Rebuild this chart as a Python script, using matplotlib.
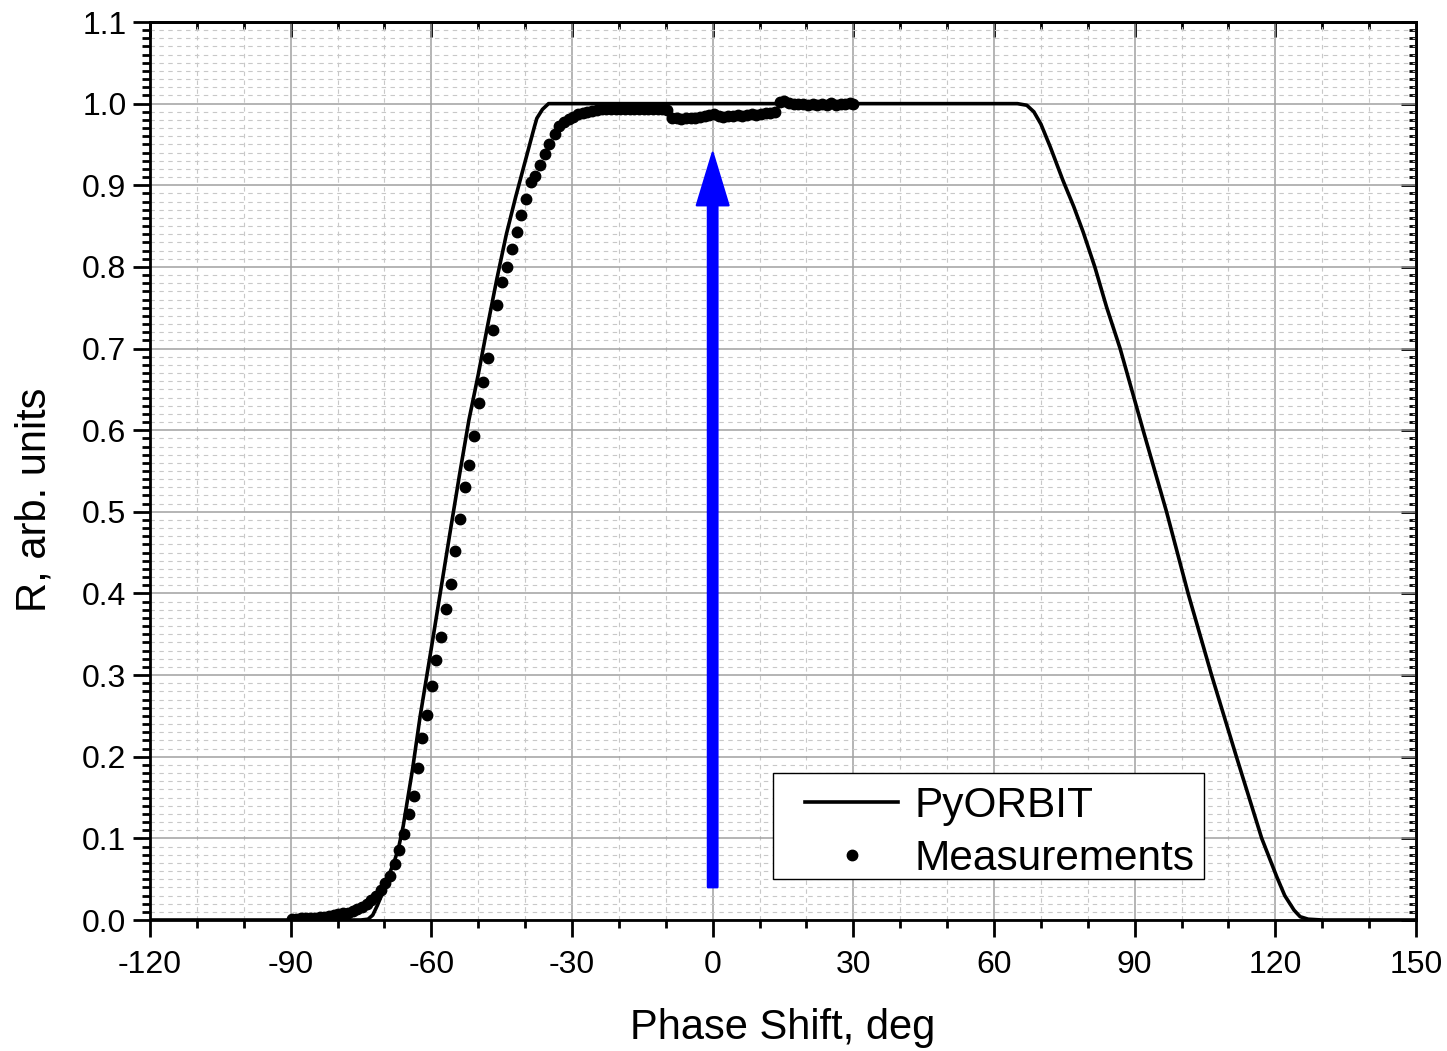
import matplotlib
matplotlib.use("Agg")
import matplotlib.pyplot as plt
from matplotlib.ticker import MultipleLocator, FormatStrFormatter
from matplotlib.patches import Rectangle

plt.rcParams['font.family'] = ['Liberation Sans', 'DejaVu Sans']
plt.rcParams['axes.unicode_minus'] = False

# PyORBIT simulation curve
sim_x = [-120, -75, -73.5, -72.5, -71.5, -70.5, -69.5, -68, -67, -66, -64, -62.4, -60, -58, -56, -54,
         -52, -50, -48, -46, -44, -42, -40, -38, -37.5, -36.3, -35,
         65, 67, 68.5, 70, 72, 74.7, 77, 79, 81.5, 84, 86.9, 91.8, 96.8, 101.4, 106.4, 111.7, 117.1,
         120.3, 122, 124, 125.3, 127, 130, 150]
sim_y = [0, 0, 0.001, 0.006, 0.018, 0.032, 0.049, 0.07, 0.088, 0.115, 0.185, 0.249, 0.333, 0.404, 0.475, 0.545,
         0.612, 0.668, 0.728, 0.786, 0.840, 0.886, 0.929, 0.972, 0.982, 0.993, 1.0,
         1.0, 0.998, 0.99, 0.975, 0.947, 0.906, 0.874, 0.843, 0.8, 0.751, 0.7, 0.6, 0.5, 0.4, 0.3, 0.2, 0.1,
         0.053, 0.03, 0.012, 0.004, 0.001, 0, 0]

# Measurements
meas_x = [-89.8, -88.8, -87.8, -86.8, -85.8, -84.8, -83.8, -82.8, -81.8, -80.8,
          -79.8, -78.8, -77.8, -76.8, -75.8, -74.8, -73.8, -72.8, -71.8, -70.8,
          -69.8, -68.8, -67.8, -66.8, -65.8, -64.8, -63.8, -62.9, -61.9, -60.9,
          -59.9, -58.9, -57.9, -56.8, -55.9, -54.9, -53.9, -52.8, -51.9, -50.9,
          -49.8, -48.9, -47.9, -46.9, -45.9, -44.9, -43.9, -42.9, -41.8, -40.9,
          -39.8, -38.8, -37.8, -36.8, -35.8, -34.8, -33.6,
          -32.7, -31.7, -30.7, -29.7, -28.7, -27.7, -26.7, -25.7, -24.7, -23.7,
          -22.7, -21.7, -20.7, -19.7, -18.7, -17.7, -16.7, -15.7, -14.7, -13.7,
          -12.7, -11.7, -10.7, -9.7, -8.7, -7.7, -6.7, -5.7, -4.7, -3.7,
          -2.7, -1.7, -0.7, 0.3, 1.3, 2.3, 3.3, 4.3, 5.3, 6.3,
          7.3, 8.3, 9.3, 10.3, 11.3, 12.3, 13.3, 14.3, 15.3, 16.3,
          17.3, 18.3, 19.3, 20.3, 21.3, 22.3, 23.3, 24.3, 25.3, 26.3,
          27.3, 28.3, 29.3, 30.0]
meas_y = [0.001, 0.001, 0.002, 0.002, 0.003, 0.003, 0.004, 0.004, 0.005, 0.006,
          0.007, 0.008, 0.009, 0.011, 0.013, 0.016, 0.019, 0.024, 0.030, 0.037,
          0.045, 0.054, 0.069, 0.086, 0.105, 0.130, 0.152, 0.186, 0.223, 0.251,
          0.287, 0.318, 0.347, 0.381, 0.411, 0.452, 0.491, 0.531, 0.557, 0.593,
          0.633, 0.659, 0.689, 0.723, 0.753, 0.781, 0.800, 0.822, 0.843, 0.863,
          0.883, 0.904, 0.911, 0.925, 0.938, 0.951, 0.963,
          0.972, 0.977, 0.981, 0.984, 0.987, 0.989, 0.990, 0.991, 0.992, 0.993,
          0.993, 0.993, 0.994, 0.993, 0.993, 0.993, 0.994, 0.993, 0.993, 0.994,
          0.993, 0.994, 0.993, 0.992, 0.983, 0.982, 0.981, 0.982, 0.982, 0.983,
          0.984, 0.985, 0.986, 0.987, 0.985, 0.984, 0.985, 0.985, 0.986, 0.985,
          0.986, 0.987, 0.986, 0.987, 0.988, 0.989, 0.990, 1.002, 1.003, 1.001,
          1.000, 0.999, 0.999, 0.998, 0.999, 0.998, 0.999, 0.998, 1.001, 0.998,
          0.999, 1.000, 1.001, 0.999]

arrow_x = 0
arrow_y0 = 0.04
arrow_y1 = 0.94

x_ticks = [-120, -90, -60, -30, 0, 30, 60, 90, 120, 150]

fig = plt.figure(figsize=(14.47, 10.51), dpi=100)
ax = fig.add_axes([150/1447, 131/1051, 1266/1447, 898/1051])

ax.set_xlim(-120, 150)
ax.set_ylim(0, 1.1)
ax.set_xticks(x_ticks)
ax.xaxis.set_minor_locator(MultipleLocator(10))
ax.yaxis.set_major_locator(MultipleLocator(0.1))
ax.yaxis.set_minor_locator(MultipleLocator(0.01))
ax.yaxis.set_major_formatter(FormatStrFormatter('%.1f'))

ax.grid(which='major', color='#a0a0a0', lw=1.1, ls='-', zorder=0)
ax.grid(which='minor', color='#c8c8c8', lw=0.8, ls=(0, (4, 4)), zorder=0)
ax.set_axisbelow(True)

ax.tick_params(which='both', direction='out', width=2, labelsize=23, top=False, right=False)
ax.tick_params(which='major', length=12)
ax.tick_params(axis='x', which='major', pad=9.5)
ax.tick_params(axis='y', which='major', pad=5)
ax.tick_params(which='minor', length=6)
for s in ax.spines.values():
    s.set_linewidth(2)
    s.set_color('black')

secx = ax.secondary_xaxis('top')
secx.set_xticks(x_ticks)
secx.xaxis.set_minor_locator(MultipleLocator(10))
secx.tick_params(which='both', direction='in', width=2, labeltop=False)
secx.tick_params(which='major', length=11)
secx.tick_params(which='minor', length=5)
secx.spines['top'].set_linewidth(2)

secy = ax.secondary_yaxis('right')
secy.yaxis.set_major_locator(MultipleLocator(0.1))
secy.yaxis.set_minor_locator(MultipleLocator(0.01))
secy.tick_params(which='both', direction='in', width=2, labelright=False)
secy.tick_params(which='major', length=11)
secy.tick_params(which='minor', length=5)
secy.spines['right'].set_linewidth(2)

ax.plot(meas_x, meas_y, ls='none', marker='o', ms=7.5, color='black', label='Measurements', zorder=3)
ax.plot(sim_x, sim_y, color='black', lw=2.6, label='PyORBIT', zorder=4)

ax.annotate('', xy=(arrow_x, arrow_y1), xytext=(arrow_x, arrow_y0),
            arrowprops=dict(arrowstyle='simple,head_length=3.8,head_width=2.3,tail_width=0.7',
                            mutation_scale=10, color='blue', lw=1.5, joinstyle='round',
                            shrinkA=0, shrinkB=0),
            zorder=5)

ax.set_xlabel('Phase Shift, deg', fontsize=30)
ax.xaxis.set_label_coords(0.5, -0.098)
ax.set_ylabel('R, arb. units', fontsize=30)
ax.yaxis.set_label_coords(-0.0753, 0.468)

# legend frame (drawn separately so paddings can match the reference)
frame = Rectangle((0.4921, 0.0457), 0.3404, 0.1180, transform=ax.transAxes,
                  facecolor='white', edgecolor='black', lw=1.0, zorder=6)
ax.add_patch(frame)

handles, labels = ax.get_legend_handles_labels()
leg = ax.legend([handles[1], handles[0]], [labels[1], labels[0]],
                loc='upper left', bbox_to_anchor=(0.5174, 0.1496), borderaxespad=0,
                fontsize=30.5, frameon=False,
                handlelength=2.2, handletextpad=0.38, labelspacing=0.32, borderpad=0,
                numpoints=1)
leg.set_zorder(7)

fig.savefig('out.png', dpi=100)
